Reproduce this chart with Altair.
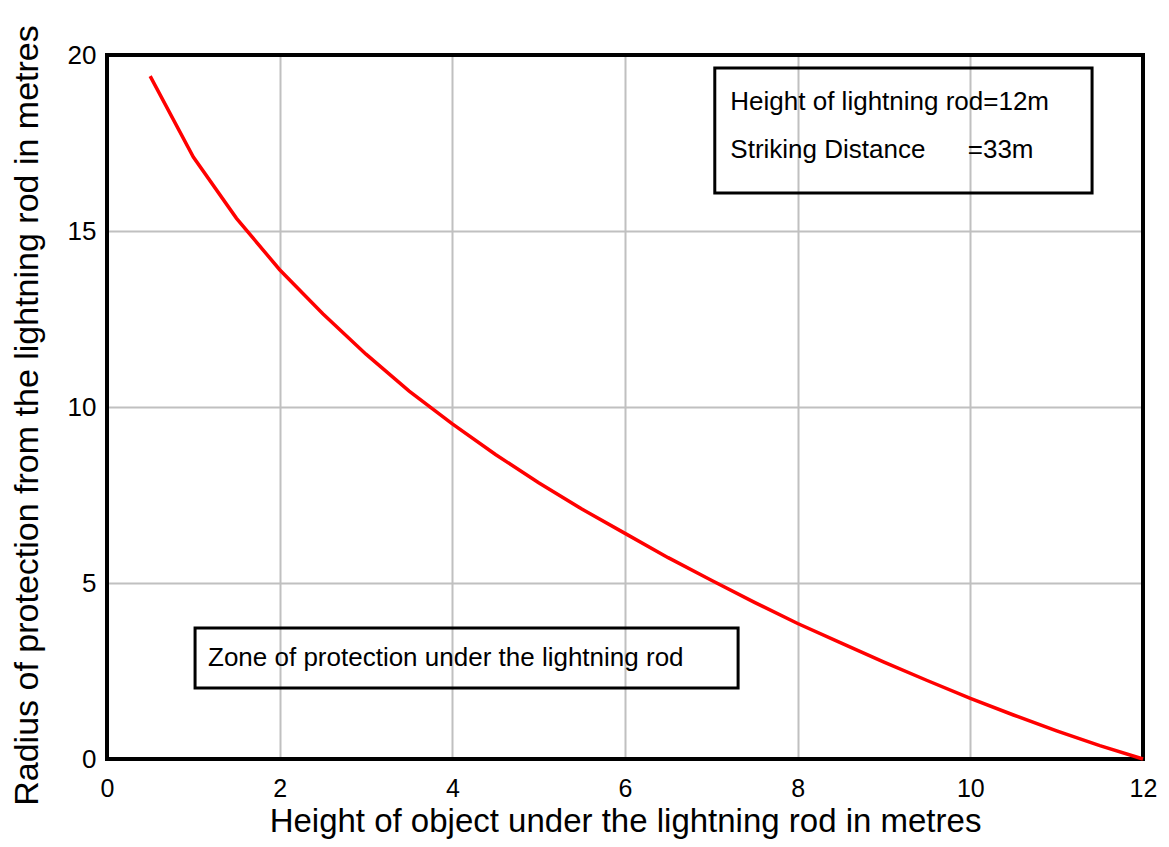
import altair as alt
import pandas as pd

# Curve data
heights = [0.5, 1.0, 1.5, 2.0, 2.5, 3.0, 3.5, 4.0, 4.5, 5.0, 5.5, 6.0,
           6.5, 7.0, 7.5, 8.0, 8.5, 9.0, 9.5, 10.0, 10.5, 11.0, 11.5, 12.0]
radius = [19.4, 17.1, 15.36, 13.9, 12.65, 11.5, 10.45, 9.52, 8.65, 7.85, 7.1, 6.41,
          5.72, 5.08, 4.45, 3.85, 3.3, 2.75, 2.23, 1.72, 1.25, 0.8, 0.38, 0.0]

x_ticks = [0, 2, 4, 6, 8, 10, 12]
y_ticks = [0, 5, 10, 15, 20]

x_title = "Height of object under the lightning rod in metres"
y_title = "Radius of protection from the lightning rod in metres"

box_texts = ["Height of lightning rod=12m", "Striking Distance", "=33m",
             "Zone of protection under the lightning rod"]

FONT = "Liberation Sans"
W, H = 1036, 704

df = pd.DataFrame({"h": heights, "r": radius})

xs = alt.Scale(domain=[0, 12], nice=False, zero=False)
ys = alt.Scale(domain=[0, 20], nice=False, zero=False)

x_axis = alt.Axis(values=x_ticks, format="d", grid=True, gridColor="#c0c0c0", gridWidth=2,
                  ticks=False, tickSize=0, domain=False, labelFont=FONT, labelFontSize=25,
                  labelColor="black", labelPadding=17, labelFlush=False, labelOverlap=False,
                  title=x_title, titleFont=FONT, titleFontSize=33, titleFontWeight="normal",
                  titleColor="black", titleY=72, titleBaseline="alphabetic")
y_axis = alt.Axis(values=y_ticks, format="d", grid=True, gridColor="#c0c0c0", gridWidth=2,
                  ticks=False, tickSize=0, domain=False, labelFont=FONT, labelFontSize=26,
                  labelColor="black", labelPadding=11, labelFlush=False, labelOverlap=False,
                  title=y_title, titleFont=FONT, titleFontSize=34, titleFontWeight="normal",
                  titleColor="black", titleX=-70, titleY=360, titleBaseline="alphabetic")

line = alt.Chart(df).mark_line(color="#ff0000", strokeWidth=3.5).encode(
    x=alt.X("h:Q", scale=xs, axis=x_axis),
    y=alt.Y("r:Q", scale=ys, axis=y_axis),
)

frame = alt.Chart(df).mark_rect(fill=None, stroke="black", strokeWidth=3).encode(
    x=alt.value(0), x2=alt.value(W), y=alt.value(0), y2=alt.value(H)
)

boxes_df = pd.DataFrame({
    "x": [7.04, 1.02], "x2": [11.41, 7.31],
    "y": [19.63, 3.72], "y2": [16.08, 2.02],
})
boxes = alt.Chart(boxes_df).mark_rect(fill=None, stroke="black", strokeWidth=3).encode(
    x=alt.X("x:Q", scale=xs), x2="x2:Q",
    y=alt.Y("y:Q", scale=ys), y2="y2:Q",
)

text_df = pd.DataFrame({
    "label": box_texts,
    "x": [7.22, 7.22, 9.97, 1.17],
    "y": [18.66, 17.30, 17.30, 2.87],
})
texts = alt.Chart(text_df).mark_text(font=FONT, fontSize=26, color="black",
                                     align="left", baseline="middle").encode(
    x=alt.X("x:Q", scale=xs), y=alt.Y("y:Q", scale=ys), text="label:N"
)

chart = alt.layer(frame, line, boxes, texts).properties(
    width=W, height=H,
    autosize=alt.AutoSizeParams(type="none"),
    padding={"left": 99, "top": 47, "right": 18, "bottom": 80},
).configure_view(stroke=None).configure(background="white")

chart.save("out.html", embed_options={"renderer": "svg", "actions": False})
